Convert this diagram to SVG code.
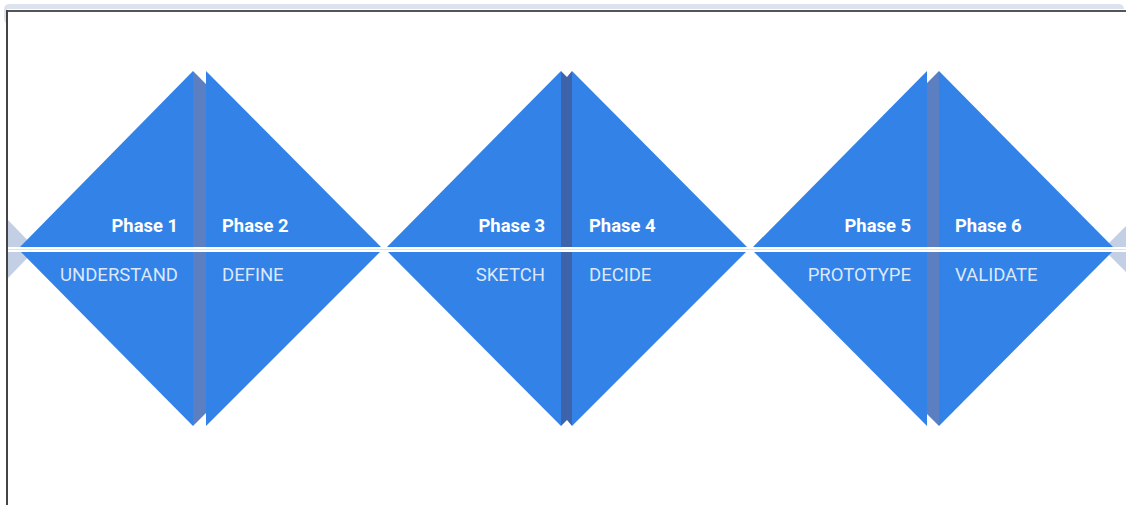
<svg xmlns="http://www.w3.org/2000/svg" width="1126" height="505" viewBox="0 0 1126 505">
  <style>
    .tri { fill: #3282e8; }
    .band { fill: #5b7fc0; }
    .band-dark { fill: #3d64aa; }
    .ghost { fill: rgb(28,76,158); fill-opacity: 0.27; }
    .phase { font-family: Roboto, "Noto Sans", "Liberation Sans", sans-serif; font-size: 18.4px; font-weight: 700; fill: #ffffff; }
    .label { font-family: Roboto, "Noto Sans", "Liberation Sans", sans-serif; font-size: 18.5px; font-weight: 400; fill: #dce8fb; }
    .end { text-anchor: end; }
  </style>

  <!-- page background and frame -->
  <rect x="0" y="0" width="1126" height="505" fill="#ffffff"/>
  <rect x="4" y="4" width="1120" height="20" rx="5" fill="#dde3ee"/>
  <rect x="7" y="9" width="1119" height="496" fill="#ffffff"/>
  <rect x="7" y="10" width="1119" height="2" fill="#555555"/>
  <rect x="6" y="10" width="2" height="495" fill="#444444"/>

  <!-- neighbouring phases, faded -->
  <g id="prev-phase">
    <polygon class="ghost" points="8,220 36,249 8,278"/>
  </g>
  <g id="next-phase">
    <polygon class="ghost" points="1126,226 1103,249 1126,272"/>
  </g>

  <!-- pair 1 -->
  <g id="phase-1">
    <polygon class="tri" points="18,249 193,71 193,426"/>
    <text class="phase end" x="178" y="232">Phase 1</text>
    <text class="label end" x="178" y="281">UNDERSTAND</text>
  </g>
  <g id="phase-2">
    <polygon class="band" points="193,71 370,249 193,426"/>
    <polygon class="tri" points="206,71 383,249 206,426"/>
    <text class="phase" x="222" y="232">Phase 2</text>
    <text class="label" x="222" y="281">DEFINE</text>
  </g>

  <!-- pair 2 -->
  <g id="phase-3">
    <polygon class="tri" points="385,249 561,71 561,426"/>
    <text class="phase end" x="545" y="232">Phase 3</text>
    <text class="label end" x="545" y="281">SKETCH</text>
  </g>
  <g id="phase-4">
    <polygon class="band-dark" points="561,71 567,77 572,71 572,426 567,420 561,426"/>
    <polygon class="tri" points="572,71 749,249 572,426"/>
    <text class="phase" x="589" y="232">Phase 4</text>
    <text class="label" x="589" y="281">DECIDE</text>
  </g>

  <!-- pair 3 -->
  <g id="phase-5">
    <polygon class="band" points="762,249 939,71 939,426"/>
    <polygon class="tri" points="751,249 927,71 927,426"/>
    <text class="phase end" x="911" y="232">Phase 5</text>
    <text class="label end" x="911" y="281">PROTOTYPE</text>
  </g>
  <g id="phase-6">
    <polygon class="tri" points="939,71 1115,249 939,426"/>
    <text class="phase" x="955" y="232">Phase 6</text>
    <text class="label" x="955" y="281">VALIDATE</text>
  </g>

  <!-- timeline axis -->
  <g id="connectors">
    <rect x="8" y="247" width="1118" height="5" fill="#ffffff"/>
    <line x1="8" y1="249.5" x2="1126" y2="249.5" stroke="#d6e4f8" stroke-width="1"/>
  </g>
</svg>
